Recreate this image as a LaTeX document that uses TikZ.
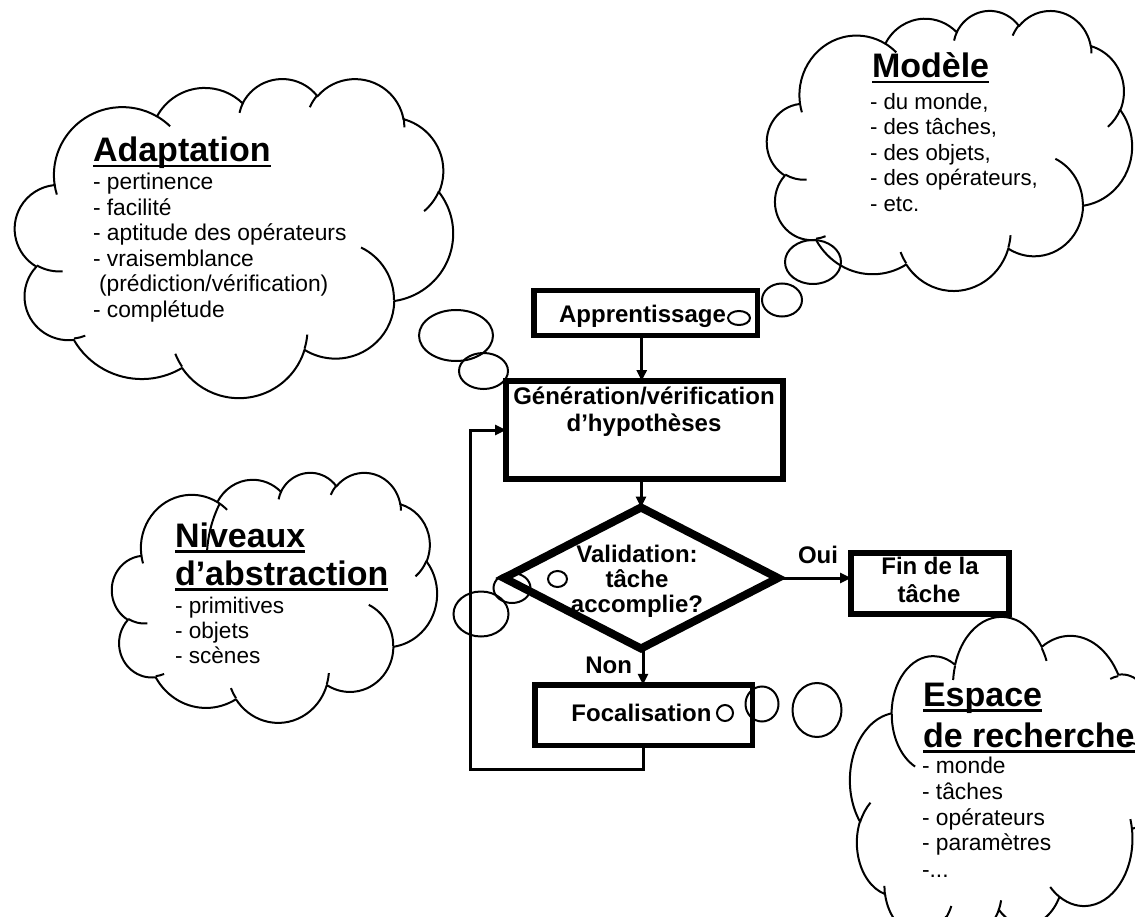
\documentclass[tikz,border=0pt]{standalone}
\usepackage{fontspec}
\setmainfont{Liberation Sans}
\usetikzlibrary{arrows.meta,shapes.geometric}

% ---------- cloud outline built from elliptical arcs ----------
% \cldmove / \cldarc append pieces to \cldpath; coordinates of the
% template live in a 100 x 100 frame, mapped to the cloud's box.
\newcommand\cldmove[2]{%
  \pgfmathsetmacro\cldX{\cldx+(50+(\cldsx)*(#1-50))*\cldkx}%
  \pgfmathsetmacro\cldY{\cldy+(50+(\cldsy)*(#2-50))*\cldky}%
  \xdef\cldpath{\cldpath (\cldX,\cldY)}%
}
\newcommand\cldarc[4]{%
  \pgfmathsetmacro\cldA{#1*\cldkx}%
  \pgfmathsetmacro\cldB{#2*\cldky}%
  \pgfmathsetmacro\cldtA{atan2(#1*sin(#3),#2*cos(#3))}%
  \pgfmathsetmacro\cldtB{atan2(#1*sin(#3+#4),#2*cos(#3+#4))}%
  \pgfmathsetmacro\cldD{mod((\cldtB)-(\cldtA)+720,360)}%
  \pgfmathsetmacro\cldU{atan2((-1)*(\cldsy)*sin(\cldtA),(\cldsx)*cos(\cldtA))}%
  \pgfmathsetmacro\cldDU{(-1)*(\cldsx)*(\cldsy)*(\cldD)}%
  \xdef\cldpath{\cldpath arc[x radius=\cldA pt, y radius=\cldB pt, start angle=\cldU, delta angle=\cldDU]}%
}
% #1,#2: top-left corner, #3,#4: width and height, #5,#6: mirror factors
\newcommand\drawcloud[6]{%
  \def\cldx{#1}\def\cldy{#2}\def\cldsx{#5}\def\cldsy{#6}%
  \pgfmathsetmacro\cldkx{#3/100}\pgfmathsetmacro\cldky{#4/100}%
  \gdef\cldpath{}%
  \cldmove{9.028}{33.264}%
  \cldarc{15.632}{21.273}{-190.487}{123.781}%
  \cldarc{12.345}{16.822}{-144.102}{89.945}%
  \cldarc{10.104}{13.762}{-145.808}{99.723}%
  \cldarc{11.243}{15.266}{-130.986}{117.242}%
  \cldarc{12.345}{16.836}{-78.709}{109.027}%
  \cldarc{15.683}{21.343}{-46.267}{130.269}%
  \cldarc{13.391}{18.211}{0.625}{114.033}%
  \cldarc{15.630}{21.331}{22.452}{115.173}%
  \cldarc{17.870}{24.405}{66.243}{75.711}%
  \cldarc{10.093}{13.699}{-274.942}{146.736}%
  \cldarc{10.058}{13.762}{-246.829}{152.519}%
  \draw[cloudline] \cldpath -- cycle;
  \gdef\cldpath{}%
  \cldmove{10.863}{60.595}\cldarc{10.058}{13.762}{86.742}{26.430}%
  \cldmove{16.037}{80.785}\cldarc{10.093}{13.699}{73.610}{11.447}%
  \cldmove{38.144}{90.486}\cldarc{15.630}{21.331}{137.624}{14.081}%
  \cldmove{66.729}{80.442}\cldarc{15.630}{21.331}{6.453}{15.998}%
  \cldmove{79.002}{53.134}\cldarc{13.391}{18.211}{-70.292}{70.917}%
  \cldmove{96.755}{35.542}\cldarc{12.345}{16.836}{30.318}{27.752}%
  \cldmove{88.713}{12.560}\cldarc{11.243}{15.266}{-13.744}{14.860}%
  \cldmove{67.310}{9.148}\cldarc{11.243}{15.266}{-149.181}{18.196}%
  \cldmove{51.252}{10.926}\cldarc{10.104}{13.762}{-163.494}{17.685}%
  \cldmove{32.407}{12.019}\cldarc{15.632}{21.273}{-66.707}{12.319}%
  \cldmove{9.553}{36.549}\cldarc{15.632}{21.273}{157.654}{11.858}%
  \draw[cloudline] \cldpath;
}

% ---------- text helpers ----------
\newsavebox\ulbox
\newcommand\ulhead[1]{\sbox\ulbox{#1}\rlap{\rule[-5.5pt]{\wd\ulbox}{2.6pt}}\usebox\ulbox}
\newcommand\headfont{\fontsize{34}{38}\selectfont\bfseries}
\newcommand\flowfont{\fontsize{24}{27}\selectfont\bfseries}

\begin{document}
\begin{tikzpicture}[x=1pt,y=-1pt,
  cloudline/.style={line width=2pt, line join=round},
  bubble/.style={line width=2pt},
  box/.style={draw, line width=5.5pt, fill=white, inner sep=0pt, outer sep=0pt},
  flow/.style={line width=3pt, -{Triangle[length=11pt,width=10pt]}},
  head/.style={anchor=base west, inner sep=0pt, outer sep=0pt, font=\headfont},
  body/.style={anchor=base west, inner sep=0pt, outer sep=0pt, font=\fontsize{#1}{25.5}\selectfont},
  body/.default=22.8,
  ftxt/.style={anchor=base, inner sep=0pt, outer sep=0pt, font=\flowfont},
]
\useasboundingbox (0,0) rectangle (1135,917);
\clip (0,0) rectangle (1135,917);

% ---------- cloud: Adaptation ----------
\drawcloud{15}{78}{438}{319}{1}{1}
\draw[bubble] (456,335.5) ellipse [x radius=37, y radius=25.5];
\draw[bubble] (483.5,371) ellipse [x radius=24.5, y radius=18];
\node[head] (adH) at (93,162) {\ulhead{Adaptation}};
\node[body] (ad1) at (93,190) {- pertinence};
\node[body] (ad2) at (93,215.5) {- facilité};
\node[body] (ad3) at (93,241) {- aptitude des opérateurs};
\node[body] (ad4) at (93,266.5) {- vraisemblance};
\node[body] (ad5) at (99,292) {(prédiction/vérification)};
\node[body] (ad6) at (93,317.5) {- complétude};

% ---------- flowchart ----------
\node[box, minimum width=223.5, minimum height=44.5] (app) at (645.5,313) {};
\node[box, line width=6pt, minimum width=277, minimum height=98] (gen) at (644.5,430) {};
\node[box, diamond, line width=8pt, minimum width=274, minimum height=141] (val) at (641,578) {};
\node[box, line width=6pt, minimum width=158, minimum height=61] (fin) at (930,583.5) {};
\node[box, minimum width=217.5, minimum height=60.5] (foc) at (643.5,715) {};
\coordinate (lp) at (470,769);

\node[ftxt] (appT) at (642.5,323) {Apprentissage};
\node[ftxt] (genT1) at (644,404) {Génération/vérification};
\node[ftxt] (genT2) at (644,431) {d’hypothèses};
\node[ftxt] (valT1) at (637,562) {Validation:};
\node[ftxt] (valT2) at (637,587) {tâche};
\node[ftxt] (valT3) at (637,612) {accomplie?};
\node[ftxt] (finT1) at (930,574) {Fin de la};
\node[ftxt] (finT2) at (929,602) {tâche};
\node[ftxt] (focT) at (641.5,721) {Focalisation};
\node[ftxt, anchor=base west] (oui) at (798,563) {Oui};
\node[ftxt, anchor=base east] (non) at (632,673) {Non};

\draw[flow] (app.south -| 641.7,0) -- (gen.north -| 641.7,0);
\draw[flow] (gen.south -| val.north) -- (val.north);
\draw[flow] (val.east) -- (fin.west |- val.east);
\draw[flow] (val.south -| 643,0) -- (foc.north -| 643,0);
\draw[flow] (foc.south -| 643,0) |- (lp) |- (gen.west);

% ---------- cloud: Modèle ----------
\drawcloud{767}{10}{365}{280}{1}{1}
\draw[bubble] (813,262) ellipse [x radius=28, y radius=22];
\draw[bubble] (782,300) ellipse [x radius=20, y radius=16.5];
\draw[bubble] (739,318) ellipse [x radius=11, y radius=7];
\node[head] (moH) at (872,78) {\ulhead{Modèle}};
\node[body=22.2] (mo1) at (870,109.5) {- du monde,};
\node[body=22.2] (mo2) at (870,135) {- des tâches,};
\node[body=22.2] (mo3) at (870,160.5) {- des objets,};
\node[body=22.2] (mo4) at (870,186) {- des opérateurs,};
\node[body=22.2] (mo5) at (870,211.5) {- etc.};

% ---------- cloud: Niveaux d'abstraction ----------
\drawcloud{112}{472}{325}{250}{1}{1}
\draw[cloudline] (220,503) .. controls (212,519) and (208,535) .. (207,552);
\draw[bubble] (481,614) ellipse [x radius=27.5, y radius=22.5];
\draw[bubble] (512,588) ellipse [x radius=18.5, y radius=15];
\draw[bubble] (557.5,579) ellipse [x radius=9.5, y radius=8];
\node[head] (niH1) at (175,547) {\ulhead{Niveaux}};
\node[head] (niH2) at (175,585) {\ulhead{d’abstraction}};
\node[body=22.6] (ni1) at (175,613) {- primitives};
\node[body=22.6] (ni2) at (175,638) {- objets};
\node[body=22.6] (ni3) at (175,663) {- scènes};

% ---------- cloud: Espace de recherche ----------
\drawcloud{850}{618}{310}{317}{-1}{-1}
\draw[bubble] (817,710) ellipse [x radius=24.5, y radius=27];
\draw[bubble] (762,704) ellipse [x radius=16.5, y radius=17.5];
\draw[bubble] (725,713) ellipse [x radius=8, y radius=8];
\node[head] (esH1) at (923,706) {\ulhead{Espace}};
\node[head] (esH2) at (923,747) {\ulhead{de recherche}};
\node[body] (es1) at (922,773) {- monde};
\node[body] (es2) at (922,799) {- tâches};
\node[body] (es3) at (922,825) {- opérateurs};
\node[body] (es4) at (922,850.5) {- paramètres};
\node[body] (es5) at (922,877) {-...};
\end{tikzpicture}
\end{document}
